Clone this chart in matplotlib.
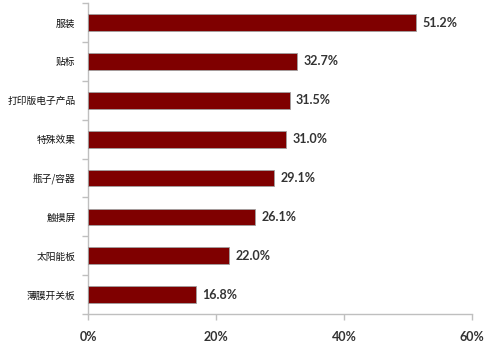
import matplotlib.pyplot as plt
from matplotlib.ticker import FuncFormatter

categories = ["服装", "贴标", "打印版电子产品", "特殊效果", "瓶子/容器", "触摸屏", "太阳能板", "薄膜开关板"]
values = [51.2, 32.7, 31.5, 31.0, 29.1, 26.1, 22.0, 16.8]
x_ticks = [0, 20, 40, 60]

bar_color = "#7f0000"
axis_color = "#bfbfbf"
text_color = "#333333"

fig = plt.figure(figsize=(5.0, 3.47), dpi=100)
ax = fig.add_axes((0.176, 0.095, 0.768, 0.896))

n = len(categories)
pos = list(range(n))[::-1]
ax.barh(pos, values, height=0.43, color=bar_color, edgecolor="#a0a0a0", linewidth=0.6, zorder=3)

for p, v in zip(pos, values):
    ax.text(v + 1.0, p, f"{v:.1f}%", va="center", ha="left", fontsize=9,
            fontweight="bold", family="Lato", color=text_color)

ax.set_xlim(0, 60)
ax.set_ylim(-0.5, n - 0.5)
ax.set_xticks(x_ticks)
ax.xaxis.set_major_formatter(FuncFormatter(lambda x, _: f"{x:.0f}%"))
for lab in ax.get_xticklabels():
    lab.set_fontweight("bold")
    lab.set_family("Lato")
    lab.set_fontsize(9)
    lab.set_color(text_color)

# category labels centred on bars, ticks on boundaries
ax.set_yticks(pos)
ax.set_yticklabels(categories, fontsize=7, family=["Noto Sans CJK SC", "DejaVu Sans"], color="#111111")
ax.tick_params(axis="y", length=0, pad=9)
ax.set_yticks([i - 0.5 for i in range(n + 1)], minor=True)
ax.tick_params(axis="y", which="minor", length=4, color=axis_color, width=1)
ax.tick_params(axis="x", length=4, color=axis_color, width=1, pad=8)

for side in ("top", "right"):
    ax.spines[side].set_visible(False)
for side in ("left", "bottom"):
    ax.spines[side].set_color(axis_color)
    ax.spines[side].set_linewidth(1)

fig.savefig("out.png", dpi=100)
